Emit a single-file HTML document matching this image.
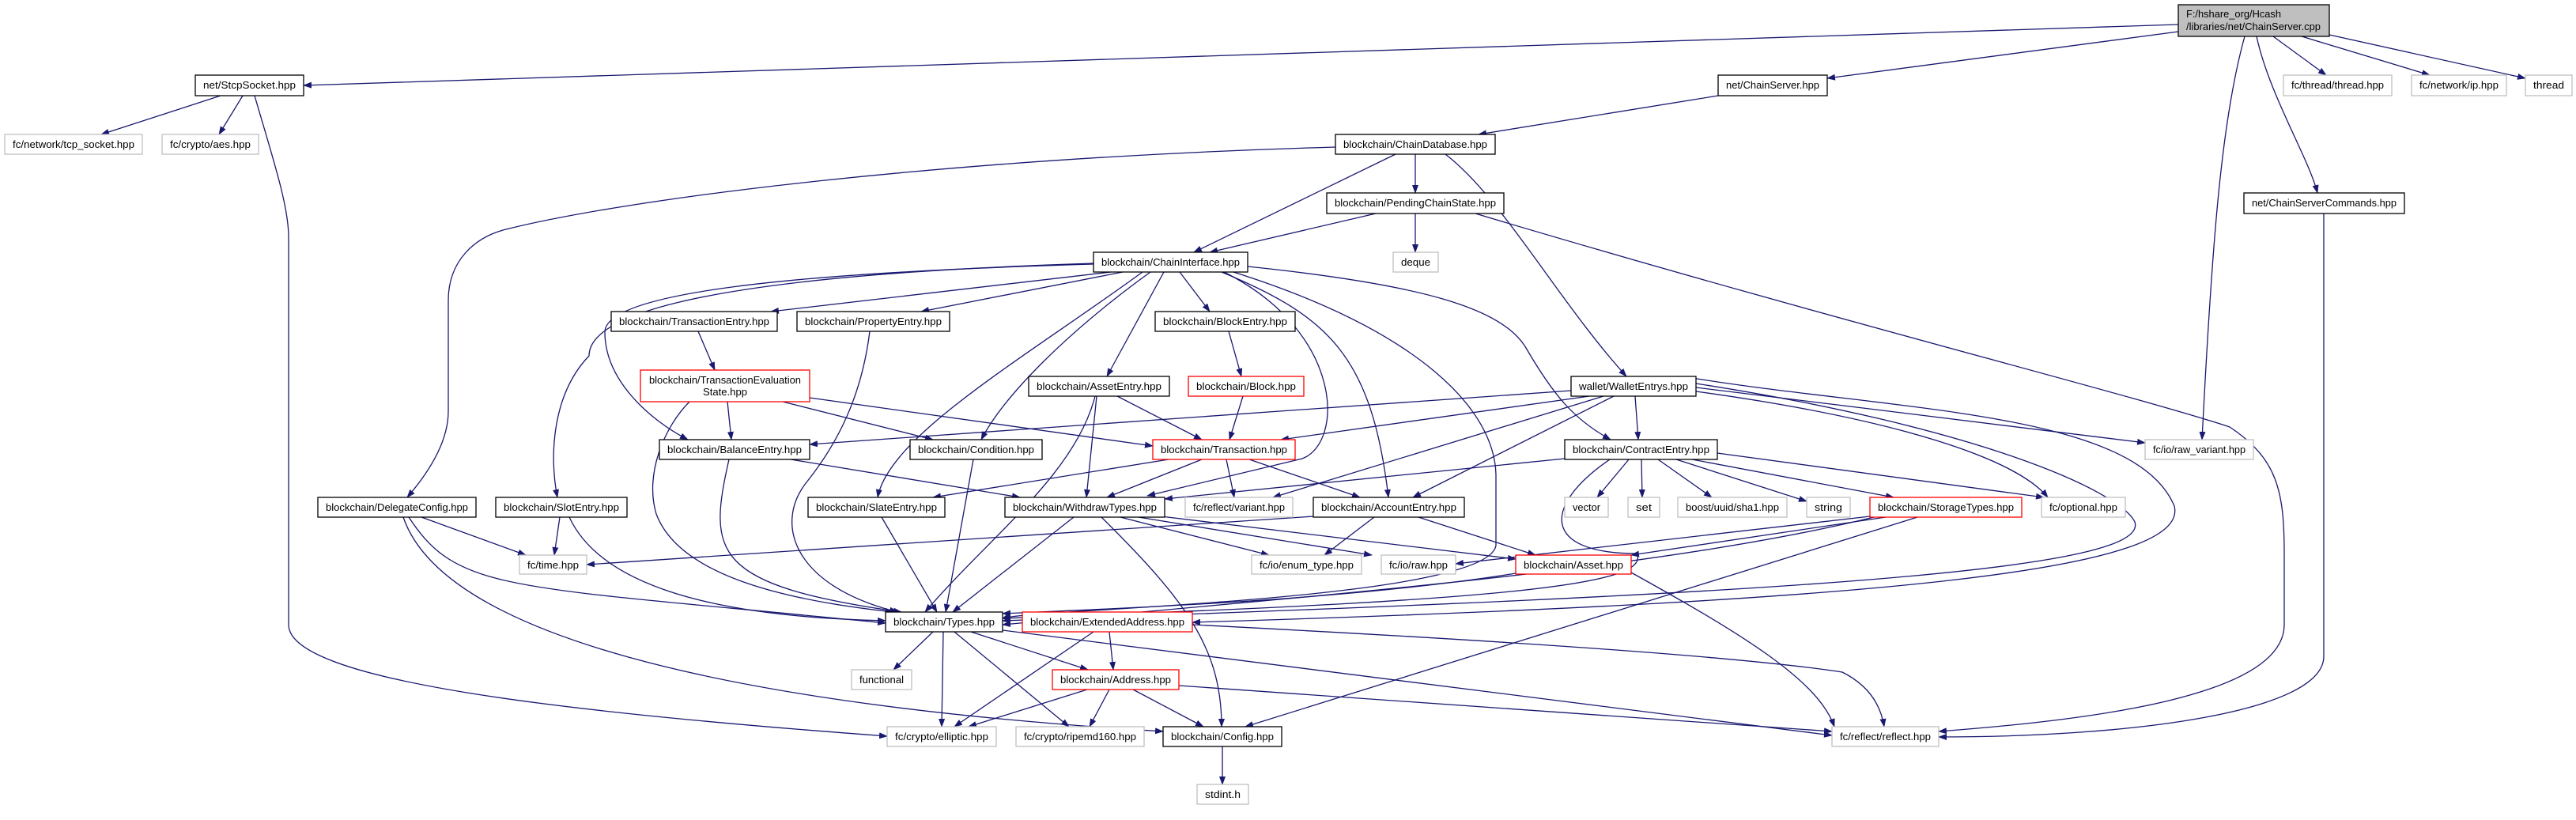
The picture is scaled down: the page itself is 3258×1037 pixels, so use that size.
<!DOCTYPE html>
<html><head><meta charset="utf-8"><style>
html,body{margin:0;padding:0;background:#fff;}
svg{display:block;}
text{font-family:"Liberation Sans",sans-serif;font-size:13px;fill:#000;}
.e{fill:none;stroke:#191970;stroke-width:1.3;marker-end:url(#a);}
.b{fill:#fff;stroke:#000;stroke-width:1.3;}
.g{fill:#fff;stroke:#bfbfbf;stroke-width:1.3;}
.r{fill:#fff;stroke:#ff0000;stroke-width:1.3;}
</style></head><body>
<svg width="3258" height="1037" viewBox="0 0 3258 1037" xmlns="http://www.w3.org/2000/svg">
<defs><marker id="a" markerUnits="userSpaceOnUse" markerWidth="12" markerHeight="10" refX="10" refY="4" orient="auto"><path d="M0,0 L11,4 L0,8 z" fill="#191970"/></marker></defs>
<rect width="3258" height="1037" fill="#fff"/>
<g>
<path class="e" d="M2755,31 L384,108"/>
<path class="e" d="M2755,40 L2311,99"/>
<path class="e" d="M2875,46 L2942,95"/>
<path class="e" d="M2911,46 L3073,95"/>
<path class="e" d="M2946,44 L3194,99"/>
<path class="e" d="M2854,46 C2870,120 2920,200 2931,244"/>
<path class="e" d="M2839,46 C2810,150 2798,300 2785,556"/>
<path class="e" d="M279,121 L128,170"/>
<path class="e" d="M307,121 L277,170"/>
<path class="e" d="M322,121 C345,200 365,260 365,300 L365,790 C365,860 700,900 1122,931"/>
<path class="e" d="M2173,121 L1870,170"/>
<path class="e" d="M1689,186 C1200,200 800,250 640,290 C600,300 567,330 567,380 L567,520 C567,560 540,600 515,629"/>
<path class="e" d="M1765,195 L1510,319"/>
<path class="e" d="M1790,195 L1790,244"/>
<path class="e" d="M1828,195 C1900,250 1970,380 2057,476"/>
<path class="e" d="M1740,270 L1530,319"/>
<path class="e" d="M1790,270 L1790,319"/>
<path class="e" d="M1866,270 C2300,400 2700,500 2820,540 C2880,580 2889,620 2889,700 L2889,790 C2889,880 2650,910 2452,925"/>
<path class="e" d="M2939,270 L2939,830 C2939,900 2700,932 2452,932"/>
<path class="e" d="M1405,344 L975,394"/>
<path class="e" d="M1420,344 L1165,394"/>
<path class="e" d="M1492,344 L1530,394"/>
<path class="e" d="M1472,344 L1400,476"/>
<path class="e" d="M1455,344 C1350,420 1270,500 1241,556"/>
<path class="e" d="M1445,344 C1300,450 1125,550 1110,629"/>
<path class="e" d="M1383,334 C1000,345 765,370 765,420 C765,480 820,530 870,556"/>
<path class="e" d="M1383,333 C1000,345 745,380 745,450 C697,500 695,580 705,629"/>
<path class="e" d="M1548,344 C1700,420 1700,560 1647,580 L1451,627"/>
<path class="e" d="M1545,344 C1680,400 1735,450 1756,629"/>
<path class="e" d="M1578,337 C1800,360 1900,390 1930,440 C1965,500 1990,530 2037,556"/>
<path class="e" d="M1560,344 C1800,420 1890,520 1892,600 L1892,690 C1880,760 1300,770 1268,782"/>
<path class="e" d="M883,419 L904,468"/>
<path class="e" d="M1100,419 C1090,500 1060,560 1020,610 C980,660 1000,740 1135,774"/>
<path class="e" d="M920,508 L925,556"/>
<path class="e" d="M990,508 L1180,556"/>
<path class="e" d="M1024,503 L1458,564"/>
<path class="e" d="M872,508 C840,540 815,600 830,650 C860,730 1000,760 1130,774"/>
<path class="e" d="M1554,419 L1570,476"/>
<path class="e" d="M1572,501 L1555,556"/>
<path class="e" d="M1413,501 L1520,556"/>
<path class="e" d="M1387,501 L1374,629"/>
<path class="e" d="M1385,501 C1360,600 1250,680 1170,774"/>
<path class="e" d="M1987,494 L1024,562"/>
<path class="e" d="M2010,501 L1620,556"/>
<path class="e" d="M2068,501 L2072,556"/>
<path class="e" d="M2041,501 L1787,629"/>
<path class="e" d="M2028,501 L1610,629"/>
<path class="e" d="M2145,490 L2713,560"/>
<path class="e" d="M2145,495 C2400,530 2550,580 2590,629"/>
<path class="e" d="M2145,485 C2500,540 2680,620 2700,660 C2720,720 2300,750 1268,785"/>
<path class="e" d="M2140,478 C2400,520 2700,520 2750,640 C2770,720 2400,760 1508,787"/>
<path class="e" d="M1000,581 L1290,629"/>
<path class="e" d="M922,581 C895,700 900,740 1140,774"/>
<path class="e" d="M1231,581 L1196,774"/>
<path class="e" d="M1478,581 L1180,629"/>
<path class="e" d="M1520,581 L1400,629"/>
<path class="e" d="M1551,581 L1561,629"/>
<path class="e" d="M1580,581 L1720,629"/>
<path class="e" d="M2060,581 L2020,629"/>
<path class="e" d="M2076,581 L2077,629"/>
<path class="e" d="M2097,581 L2165,629"/>
<path class="e" d="M2120,581 L2285,634"/>
<path class="e" d="M2140,581 L2395,629"/>
<path class="e" d="M2172,573 L2585,629"/>
<path class="e" d="M1979,580 L1473,631"/>
<path class="e" d="M2036,581 C1950,640 1950,700 2070,700 C2090,740 1900,760 1268,782"/>
<path class="e" d="M1115,654 L1185,774"/>
<path class="e" d="M708,654 L701,702"/>
<path class="e" d="M720,654 C760,740 900,780 1120,785"/>
<path class="e" d="M533,654 L665,702"/>
<path class="e" d="M517,654 C580,750 640,740 1120,788"/>
<path class="e" d="M510,654 C560,800 900,890 1471,925"/>
<path class="e" d="M1358,654 L1205,774"/>
<path class="e" d="M1393,654 C1500,760 1545,820 1545,919"/>
<path class="e" d="M1417,654 L1605,702"/>
<path class="e" d="M1440,654 L1735,702"/>
<path class="e" d="M1460,652 L1917,707"/>
<path class="e" d="M1738,654 L1675,702"/>
<path class="e" d="M1794,654 L1942,702"/>
<path class="e" d="M1661,653 L742,714"/>
<path class="e" d="M2365,653 L1841,713"/>
<path class="e" d="M2385,654 L2063,702"/>
<path class="e" d="M2370,654 C2100,720 1700,750 1268,790"/>
<path class="e" d="M2425,654 L1575,919"/>
<path class="e" d="M1917,725 C1700,760 1400,770 1268,776"/>
<path class="e" d="M2063,724 C2200,800 2300,860 2320,919"/>
<path class="e" d="M1180,799 L1130,847"/>
<path class="e" d="M1193,799 L1191,919"/>
<path class="e" d="M1207,799 L1352,919"/>
<path class="e" d="M1228,799 L1376,847"/>
<path class="e" d="M1268,797 L2317,930"/>
<path class="e" d="M1403,799 L1408,847"/>
<path class="e" d="M1383,799 L1207,919"/>
<path class="e" d="M1508,790 C1900,810 2200,830 2330,850 C2370,870 2380,900 2383,919"/>
<path class="e" d="M1375,872 L1225,919"/>
<path class="e" d="M1403,872 L1378,919"/>
<path class="e" d="M1433,872 L1522,919"/>
<path class="e" d="M1491,867 L2317,925"/>
<path class="e" d="M1546,944 L1546,992"/>
</g>
<g>
<rect x="2755" y="6" width="191" height="40" fill="#bfbfbf" stroke="#000" stroke-width="1.3"/>
<text x="2765" y="22" textLength="120" lengthAdjust="spacingAndGlyphs">F:/hshare_org/Hcash</text>
<text x="2765" y="38" textLength="170" lengthAdjust="spacingAndGlyphs">/libraries/net/ChainServer.cpp</text>
</g>
<g text-anchor="middle">
<rect class="b" x="247" y="95" width="137" height="26"/><text x="315.5" y="112" textLength="117" lengthAdjust="spacingAndGlyphs">net/StcpSocket.hpp</text>
<rect class="g" x="6" y="170" width="174" height="25"/><text x="93" y="187" textLength="154" lengthAdjust="spacingAndGlyphs">fc/network/tcp_socket.hpp</text>
<rect class="g" x="205" y="170" width="122" height="25"/><text x="266" y="187" textLength="102" lengthAdjust="spacingAndGlyphs">fc/crypto/aes.hpp</text>
<rect class="b" x="2173" y="95" width="138" height="26"/><text x="2242" y="112" textLength="118" lengthAdjust="spacingAndGlyphs">net/ChainServer.hpp</text>
<rect class="g" x="2888" y="95" width="137" height="26"/><text x="2956.5" y="112" textLength="117" lengthAdjust="spacingAndGlyphs">fc/thread/thread.hpp</text>
<rect class="g" x="3050" y="95" width="120" height="26"/><text x="3110" y="112" textLength="100" lengthAdjust="spacingAndGlyphs">fc/network/ip.hpp</text>
<rect class="g" x="3194" y="95" width="59" height="26"/><text x="3223.5" y="112" textLength="39" lengthAdjust="spacingAndGlyphs">thread</text>
<rect class="b" x="1689" y="170" width="202" height="25"/><text x="1790" y="187" textLength="182" lengthAdjust="spacingAndGlyphs">blockchain/ChainDatabase.hpp</text>
<rect class="b" x="1678" y="244" width="224" height="26"/><text x="1790" y="261" textLength="204" lengthAdjust="spacingAndGlyphs">blockchain/PendingChainState.hpp</text>
<rect class="b" x="2838" y="244" width="203" height="26"/><text x="2939.5" y="261" textLength="183" lengthAdjust="spacingAndGlyphs">net/ChainServerCommands.hpp</text>
<rect class="b" x="1383" y="319" width="195" height="25"/><text x="1480.5" y="336" textLength="175" lengthAdjust="spacingAndGlyphs">blockchain/ChainInterface.hpp</text>
<rect class="g" x="1762" y="319" width="57" height="25"/><text x="1790.5" y="336" textLength="37" lengthAdjust="spacingAndGlyphs">deque</text>
<rect class="b" x="773" y="394" width="210" height="25"/><text x="878" y="411" textLength="190" lengthAdjust="spacingAndGlyphs">blockchain/TransactionEntry.hpp</text>
<rect class="b" x="1008" y="394" width="193" height="25"/><text x="1104.5" y="411" textLength="173" lengthAdjust="spacingAndGlyphs">blockchain/PropertyEntry.hpp</text>
<rect class="b" x="1461" y="394" width="177" height="25"/><text x="1549.5" y="411" textLength="157" lengthAdjust="spacingAndGlyphs">blockchain/BlockEntry.hpp</text>
<rect class="r" x="810" y="468" width="214" height="40"/><text x="917" y="485" textLength="192" lengthAdjust="spacingAndGlyphs">blockchain/TransactionEvaluation</text><text x="917" y="500" textLength="56" lengthAdjust="spacingAndGlyphs">State.hpp</text>
<rect class="b" x="1301" y="476" width="178" height="25"/><text x="1390" y="493" textLength="158" lengthAdjust="spacingAndGlyphs">blockchain/AssetEntry.hpp</text>
<rect class="r" x="1503" y="476" width="146" height="25"/><text x="1576" y="493" textLength="126" lengthAdjust="spacingAndGlyphs">blockchain/Block.hpp</text>
<rect class="b" x="1987" y="476" width="158" height="25"/><text x="2066" y="493" textLength="138" lengthAdjust="spacingAndGlyphs">wallet/WalletEntrys.hpp</text>
<rect class="b" x="834" y="556" width="190" height="25"/><text x="929" y="573" textLength="170" lengthAdjust="spacingAndGlyphs">blockchain/BalanceEntry.hpp</text>
<rect class="b" x="1151" y="556" width="167" height="25"/><text x="1234.5" y="573" textLength="147" lengthAdjust="spacingAndGlyphs">blockchain/Condition.hpp</text>
<rect class="r" x="1458" y="556" width="180" height="25"/><text x="1548" y="573" textLength="160" lengthAdjust="spacingAndGlyphs">blockchain/Transaction.hpp</text>
<rect class="b" x="1979" y="556" width="193" height="25"/><text x="2075.5" y="573" textLength="173" lengthAdjust="spacingAndGlyphs">blockchain/ContractEntry.hpp</text>
<rect class="g" x="2713" y="556" width="137" height="25"/><text x="2781.5" y="573" textLength="117" lengthAdjust="spacingAndGlyphs">fc/io/raw_variant.hpp</text>
<rect class="b" x="402" y="629" width="200" height="25"/><text x="502" y="646" textLength="180" lengthAdjust="spacingAndGlyphs">blockchain/DelegateConfig.hpp</text>
<rect class="b" x="627" y="629" width="166" height="25"/><text x="710" y="646" textLength="146" lengthAdjust="spacingAndGlyphs">blockchain/SlotEntry.hpp</text>
<rect class="b" x="1022" y="629" width="173" height="25"/><text x="1108.5" y="646" textLength="153" lengthAdjust="spacingAndGlyphs">blockchain/SlateEntry.hpp</text>
<rect class="b" x="1271" y="629" width="202" height="25"/><text x="1372" y="646" textLength="182" lengthAdjust="spacingAndGlyphs">blockchain/WithdrawTypes.hpp</text>
<rect class="g" x="1499" y="629" width="136" height="25"/><text x="1567" y="646" textLength="116" lengthAdjust="spacingAndGlyphs">fc/reflect/variant.hpp</text>
<rect class="b" x="1661" y="629" width="191" height="25"/><text x="1756.5" y="646" textLength="171" lengthAdjust="spacingAndGlyphs">blockchain/AccountEntry.hpp</text>
<rect class="g" x="1979" y="629" width="55" height="25"/><text x="2006.5" y="646" textLength="35" lengthAdjust="spacingAndGlyphs">vector</text>
<rect class="g" x="2059" y="629" width="40" height="25"/><text x="2079" y="646" textLength="20" lengthAdjust="spacingAndGlyphs">set</text>
<rect class="g" x="2122" y="629" width="138" height="25"/><text x="2191" y="646" textLength="118" lengthAdjust="spacingAndGlyphs">boost/uuid/sha1.hpp</text>
<rect class="g" x="2285" y="629" width="55" height="25"/><text x="2312.5" y="646" textLength="35" lengthAdjust="spacingAndGlyphs">string</text>
<rect class="r" x="2365" y="629" width="192" height="25"/><text x="2461" y="646" textLength="172" lengthAdjust="spacingAndGlyphs">blockchain/StorageTypes.hpp</text>
<rect class="g" x="2582" y="629" width="106" height="25"/><text x="2635" y="646" textLength="86" lengthAdjust="spacingAndGlyphs">fc/optional.hpp</text>
<rect class="g" x="657" y="702" width="85" height="24"/><text x="699.5" y="719" textLength="65" lengthAdjust="spacingAndGlyphs">fc/time.hpp</text>
<rect class="g" x="1583" y="702" width="139" height="24"/><text x="1652.5" y="719" textLength="119" lengthAdjust="spacingAndGlyphs">fc/io/enum_type.hpp</text>
<rect class="g" x="1747" y="702" width="94" height="24"/><text x="1794" y="719" textLength="74" lengthAdjust="spacingAndGlyphs">fc/io/raw.hpp</text>
<rect class="r" x="1917" y="702" width="146" height="24"/><text x="1990" y="719" textLength="126" lengthAdjust="spacingAndGlyphs">blockchain/Asset.hpp</text>
<rect class="b" x="1120" y="774" width="148" height="25"/><text x="1194" y="791" textLength="128" lengthAdjust="spacingAndGlyphs">blockchain/Types.hpp</text>
<rect class="r" x="1293" y="774" width="215" height="25"/><text x="1400.5" y="791" textLength="195" lengthAdjust="spacingAndGlyphs">blockchain/ExtendedAddress.hpp</text>
<rect class="g" x="1077" y="847" width="76" height="25"/><text x="1115" y="864" textLength="56" lengthAdjust="spacingAndGlyphs">functional</text>
<rect class="r" x="1331" y="847" width="160" height="25"/><text x="1411" y="864" textLength="140" lengthAdjust="spacingAndGlyphs">blockchain/Address.hpp</text>
<rect class="g" x="1122" y="919" width="138" height="25"/><text x="1191" y="936" textLength="118" lengthAdjust="spacingAndGlyphs">fc/crypto/elliptic.hpp</text>
<rect class="g" x="1285" y="919" width="162" height="25"/><text x="1366" y="936" textLength="142" lengthAdjust="spacingAndGlyphs">fc/crypto/ripemd160.hpp</text>
<rect class="b" x="1471" y="919" width="150" height="25"/><text x="1546" y="936" textLength="130" lengthAdjust="spacingAndGlyphs">blockchain/Config.hpp</text>
<rect class="g" x="2317" y="919" width="135" height="25"/><text x="2384.5" y="936" textLength="115" lengthAdjust="spacingAndGlyphs">fc/reflect/reflect.hpp</text>
<rect class="g" x="1514" y="992" width="65" height="25"/><text x="1546.5" y="1009" textLength="45" lengthAdjust="spacingAndGlyphs">stdint.h</text>
</g>
</svg>
</body></html>
